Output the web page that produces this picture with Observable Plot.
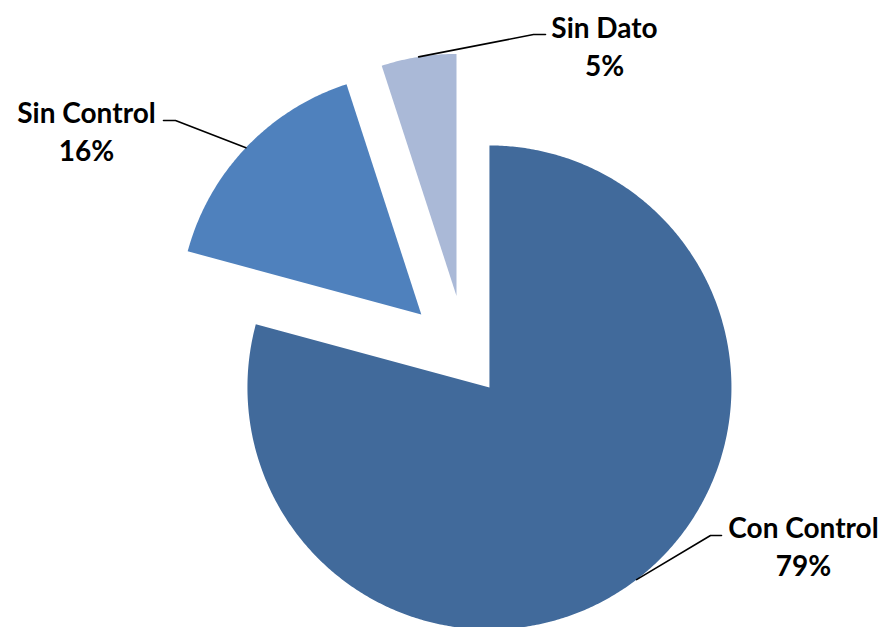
<!DOCTYPE html>
<html>
<head>
<meta charset="utf-8">
<script src="https://cdn.jsdelivr.net/npm/d3@7"></script>
<script src="https://cdn.jsdelivr.net/npm/@observablehq/plot@0.6"></script>
<style>
  html, body { margin: 0; padding: 0; background: #ffffff; }
  #chart { width: 882px; height: 627px; }
</style>
</head>
<body>
<div id="chart"></div>
<script>
// ---- data ----
const categories = ["Con Control", "Sin Control", "Sin Dato"];
const values = [79.2, 15.8, 5.0];

// ---- style / layout ----
const colors = ["#416A9B", "#4F81BD", "#AAB9D7"];
const explode = [0.158, 0.256, 0.256];      // fraction of radius
const W = 882, H = 627, R = 242, CX = 465.7, CY = 356.6;
const px = (x, y) => [(x - CX) / R, (CY - y) / R];
// label block centres and leader elbow/end (pixels)
const labelLayout = {
  "Con Control": {text: [803, 544.5], elbow: [710, 535], end: [721, 535]},
  "Sin Control": {text: [86, 129.5], elbow: [175, 120], end: [163, 120]},
  "Sin Dato":    {text: [604, 44],    elbow: [533, 34],  end: [545, 34]}
};

const total = d3.sum(values);
const dir = a => [Math.sin(a), Math.cos(a)];

const polyRows = [], leaderRows = [], labelRows = [];
let acc = 0;
categories.forEach((cat, i) => {
  const a0 = acc / total * 2 * Math.PI;
  acc += values[i];
  const a1 = acc / total * 2 * Math.PI;
  const mid = (a0 + a1) / 2;
  const [ox, oy] = dir(mid).map(v => v * explode[i]);
  polyRows.push({cat, x: ox, y: oy});
  const n = Math.max(2, Math.ceil((a1 - a0) / (Math.PI / 360)));
  for (let k = 0; k <= n; k++) {
    const a = a0 + (a1 - a0) * k / n;
    const [dx, dy] = dir(a);
    polyRows.push({cat, x: ox + dx, y: oy + dy});
  }
  const L = labelLayout[cat];
  const [mx, my] = dir(mid);
  leaderRows.push({cat, x: ox + mx, y: oy + my});
  const e1 = px(...L.elbow), e2 = px(...L.end);
  leaderRows.push({cat, x: e1[0], y: e1[1]});
  leaderRows.push({cat, x: e2[0], y: e2[1]});
  const t = px(...L.text);
  labelRows.push({cat, x: t[0], y: t[1], label: `${cat}\n${Math.round(values[i] / total * 100)}%`});
});

const chart = Plot.plot({
  width: W, height: H,
  margin: 0,
  x: {domain: [-CX / R, (W - CX) / R], axis: null},
  y: {domain: [-(H - CY) / R, CY / R], axis: null},
  color: {domain: categories, range: colors},
  style: {background: "#ffffff"},
  marks: [
    Plot.line(polyRows, {x: "x", y: "y", z: "cat", fill: "cat", stroke: "none", curve: "linear-closed"}),
    Plot.line(leaderRows, {x: "x", y: "y", z: "cat", stroke: "#000000", strokeWidth: 1.6}),
    Plot.text(labelRows, {
      x: "x", y: "y", text: "label",
      fontSize: 28, fontWeight: "bold", fontFamily: "Lato, 'Open Sans', sans-serif",
      fill: "#000000", lineHeight: 1.36, lineAnchor: "middle", textAnchor: "middle"
    })
  ]
});
document.getElementById("chart").appendChild(chart);
</script>
</body>
</html>
